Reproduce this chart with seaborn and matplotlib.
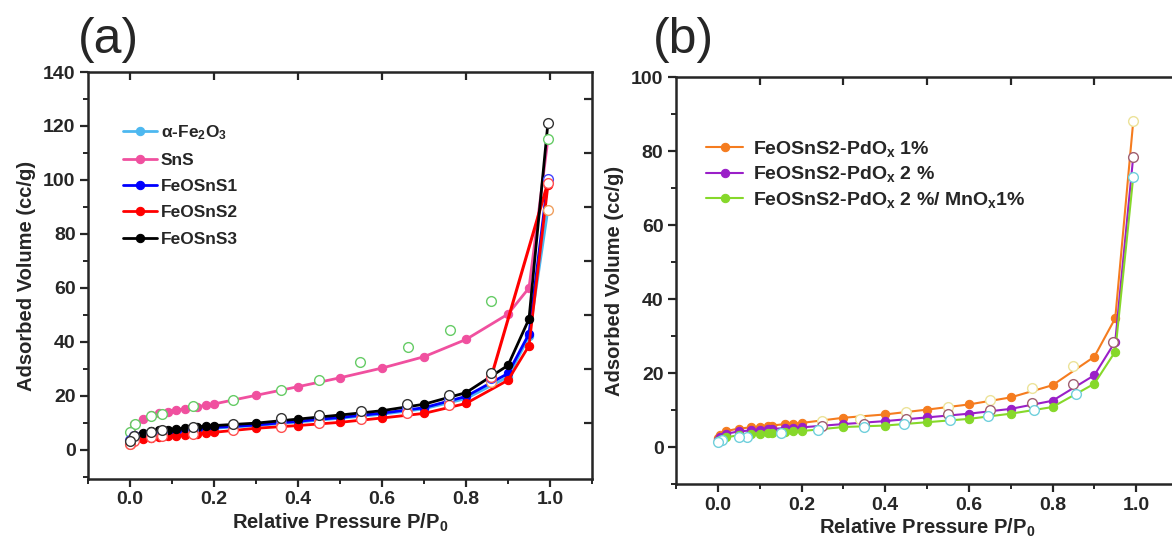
import numpy as np
import pandas as pd
import matplotlib
import matplotlib.pyplot as plt
import seaborn as sns

# ---- panel (a) data: adsorption (filled) and desorption (open) branches ----
ads_p_a = [0.003, 0.01, 0.03, 0.05, 0.07, 0.09, 0.11, 0.13, 0.16, 0.18, 0.2,
           0.3, 0.4, 0.5, 0.6, 0.7, 0.8, 0.9, 0.95, 0.995]
fe2o3_ads = [3.0, 4.3, 5.2, 5.7, 6.1, 6.4, 6.7, 6.9, 7.4, 7.7, 8.0,
             9.0, 10.3, 11.7, 13.2, 15.2, 19.0, 27.0, 42.0, 89]
sns_ads = [7.0, 9.5, 11.5, 12.8, 13.6, 14.2, 14.7, 15.2, 16.0, 16.5, 17.0,
           20.2, 23.4, 26.7, 30.3, 34.5, 40.9, 50.3, 60.0, 115]
s1_ads = [3.5, 4.8, 5.6, 6.0, 6.4, 6.7, 7.0, 7.2, 7.7, 8.0, 8.3,
          9.2, 10.6, 12.0, 13.6, 15.6, 19.8, 28.3, 43.0, 100]
s2_ads = [2.0, 3.2, 4.0, 4.5, 4.9, 5.1, 5.3, 5.5, 6.0, 6.3, 6.5,
          8.0, 9.0, 10.2, 11.8, 13.5, 17.2, 25.8, 38.6, 98]
s3_ads = [4.5, 5.5, 6.3, 6.8, 7.2, 7.5, 7.8, 8.0, 8.5, 8.8, 9.0,
          9.9, 11.4, 12.9, 14.5, 16.9, 21.2, 31.3, 48.5, 121]

des_p_a = [0.995, 0.86, 0.76, 0.66, 0.55, 0.45, 0.36, 0.245, 0.15, 0.075, 0.05, 0.01, 0.0]
fe2o3_des = [89, 25.0, 18.0, 14.8, 12.5, 11.0, 9.8, 8.3, 7.0, 6.3, 5.7, 4.5, 2.0]
s1_des = [100.5, 26.5, 19.0, 15.5, 13.3, 12.0, 10.8, 9.0, 7.8, 7.0, 6.2, 5.0, 3.5]
s2_des = [99, 27.0, 16.7, 13.6, 11.4, 9.8, 8.3, 7.4, 5.9, 5.2, 4.7, 3.3, 2.0]
s3_des = [121, 28.6, 20.2, 16.9, 14.5, 13.0, 11.7, 9.6, 8.3, 7.5, 6.5, 5.3, 3.4]
sns_des_p = [0.995, 0.86, 0.763, 0.662, 0.547, 0.449, 0.36, 0.245, 0.15, 0.077, 0.051, 0.011, 0.0]
sns_des = [115, 55, 44.5, 38.2, 32.6, 25.8, 22.1, 18.5, 16.1, 13.3, 12.4, 9.6, 6.5]

# ---- panel (b) data ----
ads_p_b = [0.0, 0.005, 0.02, 0.05, 0.08, 0.1, 0.12, 0.13, 0.16, 0.18, 0.2,
           0.3, 0.4, 0.5, 0.6, 0.7, 0.8, 0.9, 0.95, 0.993]
pd1_ads = [2.5, 3.3, 4.3, 5.0, 5.3, 5.5, 5.7, 5.8, 6.2, 6.3, 6.5,
           7.9, 8.8, 10.1, 11.5, 13.4, 16.7, 24.4, 34.8, 88]
pd2_ads = [2.0, 2.8, 3.6, 4.2, 4.5, 4.7, 4.8, 4.9, 5.1, 5.2, 5.3,
           6.2, 7.0, 8.0, 9.0, 10.3, 12.5, 19.4, 28.5, 78.5]
mn_ads = [1.5, 2.0, 2.6, 3.2, 3.4, 3.6, 3.7, 3.8, 4.0, 4.2, 4.3,
          5.4, 5.8, 6.7, 7.6, 9.0, 10.8, 17.1, 25.8, 73]

pd1_des_p = [0.993, 0.85, 0.75, 0.65, 0.55, 0.45, 0.34, 0.25]
pd1_des = [88, 21.8, 15.9, 12.6, 10.8, 9.4, 7.6, 7.0]
pd2_des_p = [0.993, 0.945, 0.85, 0.75, 0.65, 0.55, 0.45, 0.35, 0.25]
pd2_des = [78.5, 28.5, 16.9, 11.9, 10.1, 8.8, 7.6, 6.3, 5.8]
mn_des_p = [0.993, 0.855, 0.755, 0.645, 0.555, 0.445, 0.35, 0.24, 0.15, 0.07, 0.05, 0.01, 0.0]
mn_des = [73, 14.4, 10.1, 8.3, 7.3, 6.3, 5.4, 4.5, 3.7, 2.8, 2.8, 1.8, 1.3]

sns.set_style('ticks')
plt.rcParams['font.family'] = ['Liberation Sans', 'DejaVu Sans']
plt.rcParams['font.weight'] = 'bold'
plt.rcParams['mathtext.fontset'] = 'custom'
plt.rcParams['mathtext.rm'] = 'Liberation Sans:bold'
plt.rcParams['mathtext.default'] = 'rm'

W, H = 1172, 542
fig = plt.figure(figsize=(W / 100, H / 100), dpi=100)
ax1 = fig.add_axes([88 / W, 1 - 479 / H, (592 - 88) / W, (479 - 72) / H])
ax2 = fig.add_axes([676 / W, 1 - 484 / H, (1178 - 676) / W, (484 - 77) / H])


def branch(ax, p, v, color, label=None, lw=2.0, ms=6):
    sns.lineplot(x=p, y=v, ax=ax, color=color, lw=lw, marker='o', markersize=ms,
                 markeredgecolor=color, label=label, sort=False, zorder=2)


def desorb(ax, p, v, edge, ms=7):
    ax.plot(p, v, ls='none', marker='o', markersize=ms, markerfacecolor='white',
            markeredgecolor=edge, markeredgewidth=1.0, zorder=3)


# panel (a)
branch(ax1, ads_p_a, fe2o3_ads, '#4db8f0', 'α-Fe$_2$O$_3$')
branch(ax1, ads_p_a, sns_ads, '#f0509f', 'SnS')
branch(ax1, ads_p_a, s1_ads, '#0000ff', 'FeOSnS1')
branch(ax1, ads_p_a, s2_ads, '#ff0000', 'FeOSnS2')
sns.lineplot(x=des_p_a[:2], y=s2_des[:2], ax=ax1, color='#ff0000', lw=2.2, sort=False, zorder=2)
branch(ax1, ads_p_a, s3_ads, '#000000', 'FeOSnS3')
desorb(ax1, des_p_a, fe2o3_des, '#f0a060')
desorb(ax1, sns_des_p, sns_des, '#66cc66')
desorb(ax1, des_p_a, s1_des, '#4444ff')
desorb(ax1, des_p_a, s2_des, '#ff5050')
desorb(ax1, des_p_a, s3_des, '#333333')

# panel (b)
branch(ax2, ads_p_b, pd1_ads, '#f57c1f', 'FeOSnS2-PdO$_x$ 1%', lw=1.5)
branch(ax2, ads_p_b, pd2_ads, '#9a1fc8', 'FeOSnS2-PdO$_x$ 2 %', lw=1.5)
branch(ax2, ads_p_b, mn_ads, '#86d82a', 'FeOSnS2-PdO$_x$ 2 %/ MnO$_x$1%', lw=1.5)
desorb(ax2, pd1_des_p, pd1_des, '#ece39a')
desorb(ax2, pd2_des_p, pd2_des, '#a06070')
desorb(ax2, mn_des_p, mn_des, '#70d0dc')

ax1.set_xlim(-0.1, 1.1)
ax1.set_ylim(-10.8, 140)
ax2.set_xlim(-0.1, 1.1)
ax2.set_ylim(-10, 100)
ax1.set_yticks(np.arange(0, 141, 20))
ax2.set_yticks(np.arange(0, 101, 20))

for ax, top_ticks, right_ticks in [(ax1, np.arange(0, 1.01, 0.2), np.arange(10, 131, 20)),
                                   (ax2, np.arange(0.1, 1.15, 0.2), None)]:
    ax.set_xticks(np.arange(0, 1.01, 0.2))
    ax.set_xticks(np.arange(-0.1, 1.11, 0.2), minor=True)
    ax.set_yticks(np.arange(ax.get_yticks()[0] - 10, ax.get_ylim()[1], 20), minor=True)
    ax.xaxis.set_major_formatter(matplotlib.ticker.FormatStrFormatter('%.1f'))
    ax.tick_params(which='major', direction='out', length=6, width=1.6, labelsize=14, pad=3)
    ax.tick_params(which='minor', direction='out', length=3.5, width=1.4)
    for s in ax.spines.values():
        s.set_linewidth(1.8)
    sec_x = ax.secondary_xaxis('top')
    sec_x.set_xticks(top_ticks)
    sec_x.tick_params(direction='in', length=6, width=1.6, labeltop=False)
    if right_ticks is not None:
        sec_y = ax.secondary_yaxis('right')
        sec_y.set_yticks(right_ticks)
        sec_y.tick_params(direction='in', length=6, width=1.6, labelright=False)
    ax.set_xlabel('Relative Pressure P/P$_0$', fontsize=14.5, fontweight='bold', labelpad=2)
    ax.set_ylabel('Adsorbed Volume (cc/g)', fontsize=14.5, fontweight='bold', labelpad=5)

ax1.legend(loc='upper left', bbox_to_anchor=(0.055, 0.892), frameon=False, fontsize=12.5,
           handlelength=2.0, handletextpad=0.2, labelspacing=0.64, borderaxespad=0)
ax2.legend(loc='upper left', bbox_to_anchor=(0.045, 0.868), frameon=False, fontsize=14,
           handlelength=1.9, handletextpad=0.5, labelspacing=0.3, borderaxespad=0)

fig.text(78 / W, 0.968, '(a)', fontsize=36, fontweight='normal', va='top')
fig.text(653 / W, 0.968, '(b)', fontsize=36, fontweight='normal', va='top')

fig.savefig('out.png', dpi=100)
